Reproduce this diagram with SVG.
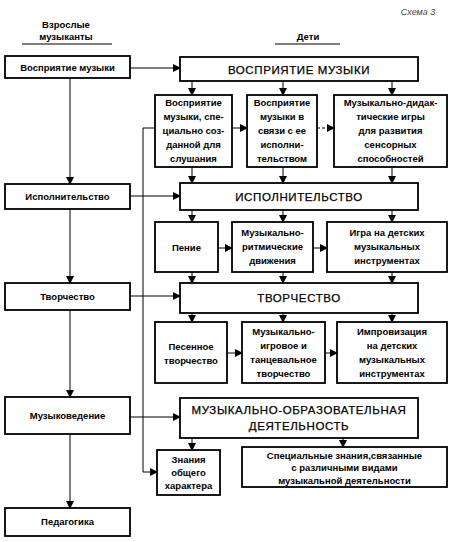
<svg xmlns="http://www.w3.org/2000/svg" width="452" height="542" viewBox="0 0 452 542">
<defs>
<marker id="ah" markerUnits="userSpaceOnUse" markerWidth="8" markerHeight="8" refX="7" refY="4" orient="auto">
<path d="M0,0 L8,4 L0,8 Z" fill="#000"/>
</marker>
<style>
.box{fill:#fff;stroke:#000;stroke-width:1.8}
.ln{fill:none;stroke:#000;stroke-width:1}
.ar{fill:none;stroke:#000;stroke-width:1;marker-end:url(#ah)}
.t{font-family:"Liberation Sans",Arial,sans-serif;font-size:9.5px;font-weight:bold;text-anchor:middle;fill:#000}
.big{font-family:"Liberation Sans",Arial,sans-serif;font-size:11.5px;text-anchor:middle;fill:#000;letter-spacing:0.6px;stroke:#000;stroke-width:0.25}
.hd{font-family:"Liberation Sans",Arial,sans-serif;font-size:9.5px;font-weight:bold;text-anchor:middle;fill:#000}
</style>
</defs>
<rect width="452" height="542" fill="#fff"/>

<g id="header">
<text x="418" y="15" class="hd" style="font-size:9px;font-weight:normal;font-style:italic;fill:#444">Схема 3</text>
<text x="66" y="28" class="hd">Взрослые</text>
<text x="66" y="40" class="hd">музыканты</text>
<line x1="22" y1="44" x2="112" y2="44" class="ln"/>
<text x="308" y="40" class="hd">Дети</text>
<line x1="275" y1="44" x2="340" y2="44" class="ln"/>
</g>

<g id="connectors">
<line x1="70" y1="78" x2="70" y2="184" class="ar"/>
<line x1="70" y1="209" x2="70" y2="283" class="ar"/>
<line x1="70" y1="310" x2="70" y2="397" class="ar"/>
<line x1="70" y1="434" x2="70" y2="508" class="ar"/>
<line x1="130" y1="68" x2="180" y2="68" class="ar"/>
<line x1="130" y1="196" x2="180" y2="196" class="ar"/>
<line x1="130" y1="296" x2="180" y2="296" class="ar"/>
<line x1="130" y1="417" x2="180" y2="417" class="ar"/>
<polyline points="155,128 143,128 143,472 157,472" class="ar"/>
<line x1="192" y1="81" x2="192" y2="95" class="ar"/>
<line x1="283" y1="81" x2="283" y2="95" class="ar"/>
<line x1="392" y1="81" x2="392" y2="95" class="ar"/>
<line x1="232" y1="128" x2="247" y2="128" class="ar"/>
<line x1="317" y1="128" x2="334" y2="128" class="ar" stroke-dasharray="3,2"/>
<line x1="192" y1="167" x2="192" y2="183" class="ar"/>
<line x1="283" y1="167" x2="283" y2="183" class="ar"/>
<line x1="392" y1="167" x2="392" y2="183" class="ar"/>
<line x1="192" y1="210" x2="192" y2="222" class="ar"/>
<line x1="283" y1="210" x2="283" y2="222" class="ar"/>
<line x1="392" y1="210" x2="392" y2="222" class="ar"/>
<line x1="218" y1="248" x2="232" y2="248" class="ar"/>
<line x1="313" y1="248" x2="327" y2="248" class="ar"/>
<line x1="192" y1="272" x2="192" y2="283" class="ar"/>
<line x1="283" y1="272" x2="283" y2="283" class="ar"/>
<line x1="392" y1="272" x2="392" y2="283" class="ar"/>
<line x1="192" y1="313" x2="192" y2="322" class="ar"/>
<line x1="283" y1="313" x2="283" y2="322" class="ar"/>
<line x1="392" y1="313" x2="392" y2="322" class="ar"/>
<line x1="227" y1="353" x2="242" y2="353" class="ar"/>
<line x1="325" y1="353" x2="337" y2="353" class="ar"/>
<line x1="192" y1="438" x2="192" y2="450" class="ar"/>
<line x1="343" y1="438" x2="343" y2="447" class="ar"/>
</g>

<g id="adult-perception">
<rect x="5" y="56" width="125" height="22" class="box"/>
<text x="67.5" y="70.5" class="t">Восприятие музыки</text>
</g>
<g id="adult-performance">
<rect x="5" y="184" width="125" height="25" class="box"/>
<text x="67.5" y="200" class="t">Исполнительство</text>
</g>
<g id="adult-creativity">
<rect x="5" y="283" width="125" height="27" class="box"/>
<text x="67.5" y="300" class="t">Творчество</text>
</g>
<g id="adult-musicology">
<rect x="5" y="397" width="125" height="37" class="box"/>
<text x="67.5" y="419" class="t">Музыковедение</text>
</g>
<g id="adult-pedagogy">
<rect x="5" y="508" width="125" height="28" class="box"/>
<text x="67.5" y="525" class="t">Педагогика</text>
</g>

<g id="perception">
<rect x="180" y="57" width="238" height="24" class="box"/>
<text x="299" y="73.5" class="big">ВОСПРИЯТИЕ  МУЗЫКИ</text>
</g>
<g id="perception-a">
<rect x="155" y="95" width="77" height="72" class="box"/>
<text class="t"><tspan x="193.5" y="106">Восприятие</tspan><tspan x="193.5" y="120">музыки, спе-</tspan><tspan x="193.5" y="134">циально соз-</tspan><tspan x="193.5" y="148">данной для</tspan><tspan x="193.5" y="162">слушания</tspan></text>
</g>
<g id="perception-b">
<rect x="247" y="95" width="70" height="72" class="box"/>
<text class="t"><tspan x="282" y="106">Восприятие</tspan><tspan x="282" y="120">музыки в</tspan><tspan x="282" y="134">связи с ее</tspan><tspan x="282" y="148">исполни-</tspan><tspan x="282" y="162">тельством</tspan></text>
</g>
<g id="perception-c">
<rect x="334" y="95" width="113" height="72" class="box"/>
<text class="t"><tspan x="390.5" y="106">Музыкально-дидак-</tspan><tspan x="390.5" y="120">тические игры</tspan><tspan x="390.5" y="134">для развития</tspan><tspan x="390.5" y="148">сенсорных</tspan><tspan x="390.5" y="162">способностей</tspan></text>
</g>

<g id="performance">
<rect x="180" y="183" width="238" height="27" class="box"/>
<text x="299" y="201" class="big">ИСПОЛНИТЕЛЬСТВО</text>
</g>
<g id="singing">
<rect x="155" y="222" width="63" height="50" class="box"/>
<text x="186.5" y="251" class="t">Пение</text>
</g>
<g id="rhythmic">
<rect x="232" y="222" width="81" height="50" class="box"/>
<text class="t"><tspan x="272.5" y="236">Музыкально-</tspan><tspan x="272.5" y="250">ритмические</tspan><tspan x="272.5" y="264">движения</tspan></text>
</g>
<g id="instruments">
<rect x="327" y="222" width="120" height="50" class="box"/>
<text class="t"><tspan x="387" y="236">Игра  на детских</tspan><tspan x="387" y="250">музыкальных</tspan><tspan x="387" y="264">инструментах</tspan></text>
</g>

<g id="creativity">
<rect x="180" y="283" width="238" height="30" class="box"/>
<text x="299" y="302" class="big">ТВОРЧЕСТВО</text>
</g>
<g id="song-creativity">
<rect x="155" y="322" width="72" height="61" class="box"/>
<text class="t"><tspan x="191" y="350">Песенное</tspan><tspan x="191" y="364">творчество</tspan></text>
</g>
<g id="dance-creativity">
<rect x="242" y="322" width="83" height="61" class="box"/>
<text class="t"><tspan x="283.5" y="335">Музыкально-</tspan><tspan x="283.5" y="349">игровое и</tspan><tspan x="283.5" y="363">танцевальное</tspan><tspan x="283.5" y="377">творчество</tspan></text>
</g>
<g id="improvisation">
<rect x="337" y="322" width="110" height="61" class="box"/>
<text class="t"><tspan x="392" y="335">Импровизация</tspan><tspan x="392" y="349">на детских</tspan><tspan x="392" y="363">музыкальных</tspan><tspan x="392" y="377">инструментах</tspan></text>
</g>

<g id="education">
<rect x="180" y="398" width="238" height="40" class="box"/>
<text class="big"><tspan x="299" y="414">МУЗЫКАЛЬНО-ОБРАЗОВАТЕЛЬНАЯ</tspan><tspan x="299" y="430">ДЕЯТЕЛЬНОСТЬ</tspan></text>
</g>
<g id="general-knowledge">
<rect x="157" y="450" width="63" height="45" class="box"/>
<text class="t"><tspan x="188.5" y="463">Знания</tspan><tspan x="188.5" y="476">общего</tspan><tspan x="188.5" y="489">характера</tspan></text>
</g>
<g id="special-knowledge">
<rect x="242" y="447" width="205" height="40" class="box"/>
<text class="t"><tspan x="344.5" y="459">Специальные знания,связанные</tspan><tspan x="344.5" y="471">с различными видами</tspan><tspan x="344.5" y="484">музыкальной деятельности</tspan></text>
</g>
</svg>
